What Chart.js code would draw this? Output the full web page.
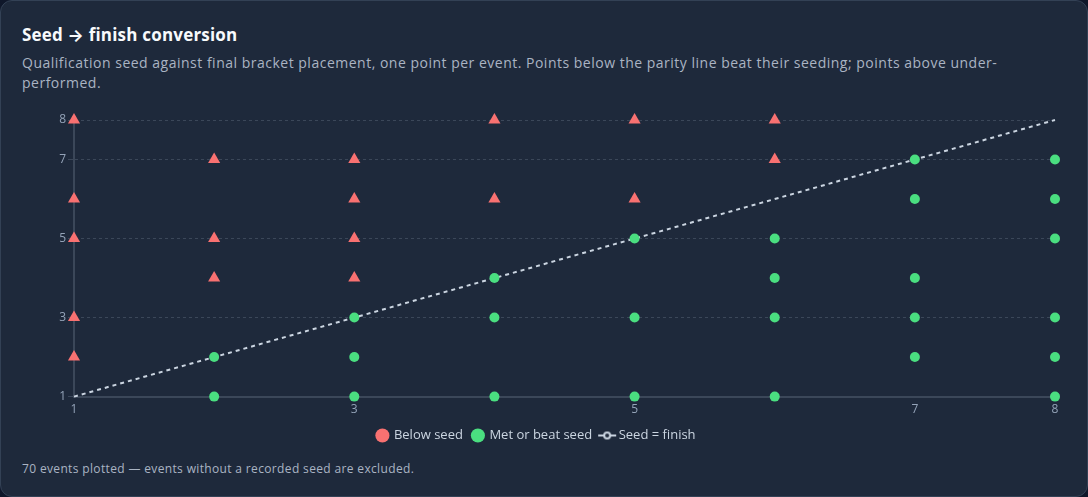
<!DOCTYPE html>
<html>
<head>
<meta charset="utf-8">
<script src="https://cdn.jsdelivr.net/npm/chart.js@4/dist/chart.umd.min.js"></script>
<style>
  html, body { margin: 0; padding: 0; background: #0f172a; width: 1088px; height: 497px; overflow: hidden; font-family: "Open Sans", "Inter", sans-serif; }
  .card { position: absolute; left: 0; top: 0; width: 1086px; height: 495px; background: #1e293b; border: 1px solid #334155; border-radius: 12px; }
  h1 { position: absolute; left: 21px; top: 22px; margin: 0; font-size: 17px; font-weight: 700; color: #f8fafc; letter-spacing: 0.2px; }
  .sub { position: absolute; left: 21px; top: 52px; width: 1040px; margin: 0; font-size: 14px; line-height: 20px; color: #aab4c3; letter-spacing: 0.5px; }
  .foot { position: absolute; left: 21px; top: 459px; margin: 0; font-size: 12px; color: #aab4c3; letter-spacing: 0.35px; }
  .chartbox { position: absolute; left: 17px; top: 104px; width: 1050px; height: 347px; }
</style>
</head>
<body>
<div class="card">
  <h1>Seed → finish conversion</h1>
  <p class="sub">Qualification seed against final bracket placement, one point per event. Points below the parity line beat their seeding; points above under-<br>performed.</p>
  <div class="chartbox"><canvas id="c"></canvas></div>
  <p class="foot">70 events plotted — events without a recorded seed are excluded.</p>
</div>
<script>
// Seed (x) vs finish (y)
const belowSeedX = [1, 1, 1, 1, 1, 2, 2, 2, 3, 3, 3, 3, 4, 4, 5, 5, 6, 6];
const belowSeedY = [8, 6, 5, 3, 2, 7, 5, 4, 7, 6, 5, 4, 8, 6, 8, 6, 8, 7];
const metSeedX = [2, 2, 3, 3, 3, 4, 4, 4, 5, 5, 5, 6, 6, 6, 6, 7, 7, 7, 7, 7, 8, 8, 8, 8, 8, 8];
const metSeedY = [2, 1, 3, 2, 1, 4, 3, 1, 5, 3, 1, 5, 4, 3, 1, 7, 6, 4, 3, 2, 7, 6, 5, 3, 2, 1];
const parityX = [1, 8];
const parityY = [1, 8];
const tickValues = [1, 3, 5, 7, 8];

const toPts = (xs, ys) => xs.map((x, i) => ({ x, y: ys[i] }));

// legend icon for parity line
const lineIcon = document.createElement('canvas');
lineIcon.width = 20; lineIcon.height = 10;
(function () {
  const g = lineIcon.getContext('2d');
  g.strokeStyle = '#cbd5e1'; g.lineWidth = 2;
  g.beginPath(); g.moveTo(1, 5); g.lineTo(19, 5); g.stroke();
  g.fillStyle = '#1e293b';
  g.beginPath(); g.arc(10, 5, 3, 0, Math.PI * 2); g.fill(); g.stroke();
})();

const tickColor = '#94a3b8';
const gridColor = '#3b4759';

new Chart(document.getElementById('c'), {
  type: 'scatter',
  data: {
    datasets: [
      { label: 'Below seed', data: toPts(belowSeedX, belowSeedY), pointStyle: 'triangle', pointRadius: 7, pointHoverRadius: 7, backgroundColor: '#f87171', borderColor: '#f87171', borderWidth: 0 },
      { label: 'Met or beat seed', data: toPts(metSeedX, metSeedY), pointStyle: 'circle', pointRadius: 5, pointHoverRadius: 5, backgroundColor: '#4ade80', borderColor: '#4ade80', borderWidth: 0 },
      { type: 'line', label: 'Seed = finish', data: toPts(parityX, parityY), borderColor: '#cbd5e1', borderWidth: 2, borderDash: [4, 4], pointRadius: 0, fill: false }
    ]
  },
  options: {
    responsive: true,
    maintainAspectRatio: false,
    animation: false,
    clip: false,
    layout: { padding: { left: 0, top: 15, right: 13, bottom: 0 } },
    scales: {
      x: {
        type: 'linear', min: 1, max: 8,
        afterBuildTicks: (s) => { s.ticks = tickValues.map(v => ({ value: v })); },
        ticks: { color: tickColor, font: { family: 'Open Sans', size: 12 }, padding: 2 },
        grid: { display: false, drawTicks: true, tickLength: 4 },
        border: { display: true, color: gridColor, width: 2 }
      },
      y: {
        type: 'linear', min: 1, max: 8,
        afterBuildTicks: (s) => { s.ticks = tickValues.map(v => ({ value: v })); },
        afterFit: (s) => { s.width = 56; },
        ticks: { color: tickColor, font: { family: 'Open Sans', size: 12 }, padding: 2 },
        grid: { color: gridColor, tickLength: 6, tickBorderDash: [], tickColor: gridColor },
        border: { display: true, color: gridColor, width: 2, dash: [3, 3] }
      }
    },
    plugins: {
      legend: {
        position: 'bottom',
        labels: {
          color: '#cbd5e1',
          font: { family: 'Open Sans', size: 13 },
          usePointStyle: true,
          boxWidth: 10, boxHeight: 10,
          padding: 10,
          generateLabels: (chart) => {
            const items = Chart.defaults.plugins.legend.labels.generateLabels(chart);
            items.forEach(it => {
              if (it.datasetIndex === 2) { it.pointStyle = lineIcon; }
              else { it.pointStyle = 'circle'; it.lineWidth = 0; }
            });
            return items;
          }
        }
      },
      tooltip: { enabled: false }
    }
  }
});
</script>
</body>
</html>
